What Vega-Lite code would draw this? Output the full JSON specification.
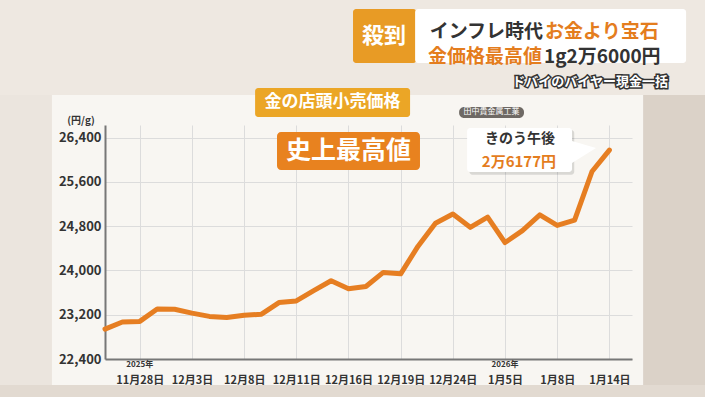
{
  "$schema": "https://vega.github.io/schema/vega-lite/v6.json",
  "width": 527,
  "height": 234,
  "autosize": "none",
  "padding": {"left": 105, "top": 125, "right": 73, "bottom": 38},
  "background": "#f8f6f2",
  "config": {
    "view": {"stroke": null},
    "font": "Noto Sans CJK JP",
    "text": {"font": "Noto Sans CJK JP", "fontWeight": "bold"}
  },
  "layer": [
    {
      "data": {"values": [
        {"x1": -7, "x2": 36, "y1": 29500, "y2": 27172, "c": "top"},
        {"x1": -7, "x2": -3.05, "y1": 27172, "y2": 21000, "c": "left"},
        {"x1": 30.94, "x2": 36, "y1": 27172, "y2": 21000, "c": "right"},
        {"x1": -7, "x2": 36, "y1": 21930, "y2": 21000, "c": "bottom"}
      ]},
      "mark": {"type": "rect", "clip": false},
      "encoding": {
        "x": {"field": "x1", "type": "quantitative"},
        "x2": {"field": "x2"},
        "y": {"field": "y1", "type": "quantitative"},
        "y2": {"field": "y2"},
        "color": {"field": "c", "type": "nominal", "legend": null,
          "scale": {"domain": ["top", "left", "right", "bottom"], "range": ["#eee8e1", "#ebe5de", "#dbd2c8", "#e2dad1"]}}
      }
    },
    {
      "data": {"values": [
        {"i": 0, "date": "2025-11-26", "price": 22940},
        {"i": 1, "date": "2025-11-27", "price": 23070},
        {"i": 2, "date": "2025-11-28", "price": 23080},
        {"i": 3, "date": "2025-12-01", "price": 23305},
        {"i": 4, "date": "2025-12-02", "price": 23300},
        {"i": 5, "date": "2025-12-03", "price": 23230},
        {"i": 6, "date": "2025-12-04", "price": 23170},
        {"i": 7, "date": "2025-12-05", "price": 23150},
        {"i": 8, "date": "2025-12-08", "price": 23190},
        {"i": 9, "date": "2025-12-09", "price": 23210},
        {"i": 10, "date": "2025-12-10", "price": 23420},
        {"i": 11, "date": "2025-12-11", "price": 23450},
        {"i": 12, "date": "2025-12-12", "price": 23635},
        {"i": 13, "date": "2025-12-15", "price": 23815},
        {"i": 14, "date": "2025-12-16", "price": 23670},
        {"i": 15, "date": "2025-12-17", "price": 23710},
        {"i": 16, "date": "2025-12-18", "price": 23965},
        {"i": 17, "date": "2025-12-19", "price": 23940},
        {"i": 18, "date": "2025-12-22", "price": 24440},
        {"i": 19, "date": "2025-12-23", "price": 24855},
        {"i": 20, "date": "2025-12-24", "price": 25020},
        {"i": 21, "date": "2025-12-25", "price": 24780},
        {"i": 22, "date": "2025-12-26", "price": 24965},
        {"i": 23, "date": "2026-01-05", "price": 24505},
        {"i": 24, "date": "2026-01-06", "price": 24720},
        {"i": 25, "date": "2026-01-07", "price": 25005},
        {"i": 26, "date": "2026-01-08", "price": 24815},
        {"i": 27, "date": "2026-01-09", "price": 24910},
        {"i": 28, "date": "2026-01-13", "price": 25790},
        {"i": 29, "date": "2026-01-14", "price": 26177}
      ]},
      "mark": {"type": "line", "color": "#e67e22", "strokeWidth": 5, "strokeJoin": "round", "strokeCap": "round"},
      "encoding": {
        "x": {"field": "i", "type": "quantitative",
          "scale": {"domain": [0, 30.3], "nice": false, "zero": false},
          "axis": {"title": null, "values": [2, 5, 8, 11, 14, 17, 20, 23, 26, 29],
            "labelExpr": "['11月28日','12月3日','12月8日','12月11日','12月16日','12月19日','12月24日','1月5日','1月8日','1月14日'][(datum.value-2)/3]",
            "ticks": false, "domainColor": "#777", "domainWidth": 2, "grid": true, "gridColor": "#dcdcdc", "gridWidth": 1,
            "labelFont": "Noto Sans CJK JP", "labelFontWeight": "bold", "labelFontSize": 11, "labelColor": "#333", "labelPadding": 15, "labelFlush": false}},
        "y": {"field": "price", "type": "quantitative",
          "scale": {"domain": [22400, 26630], "nice": false, "zero": false},
          "axis": {"title": null, "values": [22400, 23200, 24000, 24800, 25600, 26400],
            "labelExpr": "format(datum.value, ',')",
            "ticks": false, "domainColor": "#777", "domainWidth": 2, "grid": true, "gridColor": "#dcdcdc", "gridWidth": 1,
            "labelFont": "Noto Sans CJK JP", "labelFontWeight": "bold", "labelFontSize": 13, "labelColor": "#333", "labelPadding": 4}}
      }
    },
    {
      "data": {"values": [{}]},
      "mark": {"type": "rect", "clip": false, "color": "#e89b25", "cornerRadius": 3},
      "encoding": {"x": {"datum": 14.26, "type": "quantitative"}, "x2": {"datum": 17.9},
        "y": {"datum": 28727, "type": "quantitative"}, "y2": {"datum": 27751}}
    },
    {
      "data": {"values": [{}]},
      "mark": {"type": "rect", "clip": false, "color": "#ffffff", "cornerRadius": 3},
      "encoding": {"x": {"datum": 17.83, "type": "quantitative"}, "x2": {"datum": 33.41},
        "y": {"datum": 28727, "type": "quantitative"}, "y2": {"datum": 27751}}
    },
    {
      "data": {"values": [{}]},
      "mark": {"type": "text", "clip": false, "color": "#ffffff", "fontSize": 22, "align": "center", "baseline": "middle", "text": "殺到"},
      "encoding": {"x": {"datum": 16.04, "type": "quantitative"}, "y": {"datum": 28239, "type": "quantitative"}}
    },
    {
      "data": {"values": [{}]},
      "mark": {"type": "text", "clip": false, "color": "#333333", "fontSize": 19, "align": "right", "baseline": "middle", "text": "インフレ時代"},
      "encoding": {"x": {"datum": 25.19, "type": "quantitative"}, "y": {"datum": 28310, "type": "quantitative"}}
    },
    {
      "data": {"values": [{}]},
      "mark": {"type": "text", "clip": false, "color": "#e47d1e", "fontSize": 19, "align": "left", "baseline": "middle", "text": "お金より宝石"},
      "encoding": {"x": {"datum": 25.3, "type": "quantitative"}, "y": {"datum": 28310, "type": "quantitative"}}
    },
    {
      "data": {"values": [{}]},
      "mark": {"type": "text", "clip": false, "color": "#e47d1e", "fontSize": 19, "align": "right", "baseline": "middle", "text": "金価格最高値"},
      "encoding": {"x": {"datum": 25.13, "type": "quantitative"}, "y": {"datum": 27860, "type": "quantitative"}}
    },
    {
      "data": {"values": [{}]},
      "mark": {"type": "text", "clip": false, "color": "#333333", "fontSize": 19, "align": "left", "baseline": "middle", "text": "1g2万6000円"},
      "encoding": {"x": {"datum": 25.24, "type": "quantitative"}, "y": {"datum": 27860, "type": "quantitative"}}
    },
    {
      "data": {"values": [{}]},
      "mark": {"type": "text", "clip": false, "color": "#333333", "stroke": "#333333", "strokeWidth": 3, "fontSize": 13, "align": "center", "baseline": "middle", "text": "ドバイのバイヤー現金一括"},
      "encoding": {"x": {"datum": 27.89, "type": "quantitative"}, "y": {"datum": 27407, "type": "quantitative"}}
    },
    {
      "data": {"values": [{}]},
      "mark": {"type": "text", "clip": false, "color": "#ffffff", "fontSize": 13, "align": "center", "baseline": "middle", "text": "ドバイのバイヤー現金一括"},
      "encoding": {"x": {"datum": 27.89, "type": "quantitative"}, "y": {"datum": 27407, "type": "quantitative"}}
    },
    {
      "data": {"values": [{}]},
      "mark": {"type": "rect", "clip": false, "color": "#eba626", "cornerRadius": 3},
      "encoding": {"x": {"datum": 8.63, "type": "quantitative"}, "x2": {"datum": 17.54},
        "y": {"datum": 27299, "type": "quantitative"}, "y2": {"datum": 26775}}
    },
    {
      "data": {"values": [{}]},
      "mark": {"type": "text", "clip": false, "color": "#ffffff", "fontSize": 17, "align": "center", "baseline": "middle", "text": "金の店頭小売価格"},
      "encoding": {"x": {"datum": 13.08, "type": "quantitative"}, "y": {"datum": 27046, "type": "quantitative"}}
    },
    {
      "data": {"values": [{}]},
      "mark": {"type": "rect", "clip": false, "color": "#6e6964", "cornerRadius": 5},
      "encoding": {"x": {"datum": 20.36, "type": "quantitative"}, "x2": {"datum": 24.09},
        "y": {"datum": 26955, "type": "quantitative"}, "y2": {"datum": 26757}}
    },
    {
      "data": {"values": [{}]},
      "mark": {"type": "text", "clip": false, "color": "#ffffff", "fontSize": 8, "fontWeight": "normal", "align": "center", "baseline": "middle", "text": "田中貴金属工業"},
      "encoding": {"x": {"datum": 22.22, "type": "quantitative"}, "y": {"datum": 26856, "type": "quantitative"}}
    },
    {
      "data": {"values": [{}]},
      "mark": {"type": "rect", "clip": false, "color": "#e8821f", "cornerRadius": 4},
      "encoding": {"x": {"datum": 9.89, "type": "quantitative"}, "x2": {"datum": 18.11},
        "y": {"datum": 26503, "type": "quantitative"}, "y2": {"datum": 25817}}
    },
    {
      "data": {"values": [{}]},
      "mark": {"type": "text", "clip": false, "color": "#ffffff", "fontSize": 25, "align": "center", "baseline": "middle", "text": "史上最高値"},
      "encoding": {"x": {"datum": 14.0, "type": "quantitative"}, "y": {"datum": 26160, "type": "quantitative"}}
    },
    {
      "data": {"values": [{}]},
      "mark": {"type": "rect", "clip": false, "color": "#000000", "opacity": 0.12, "cornerRadius": 3},
      "encoding": {"x": {"datum": 20.95, "type": "quantitative"}, "x2": {"datum": 26.98},
        "y": {"datum": 26540, "type": "quantitative"}, "y2": {"datum": 25730}}
    },
    {
      "data": {"values": [{}]},
      "mark": {"type": "point", "clip": false, "filled": true, "color": "#ffffff", "opacity": 1, "size": 576, "shape": "M-1,-0.83L1,-0.25L-1,1Z"},
      "encoding": {"x": {"datum": 27.54, "type": "quantitative"}, "y": {"datum": 26160, "type": "quantitative"}}
    },
    {
      "data": {"values": [{}]},
      "mark": {"type": "rect", "clip": false, "color": "#ffffff", "cornerRadius": 3},
      "encoding": {"x": {"datum": 20.82, "type": "quantitative"}, "x2": {"datum": 26.85},
        "y": {"datum": 26576, "type": "quantitative"}, "y2": {"datum": 25780}}
    },
    {
      "data": {"values": [{}]},
      "mark": {"type": "text", "clip": false, "color": "#333333", "fontSize": 14, "align": "center", "baseline": "middle", "text": "きのう午後"},
      "encoding": {"x": {"datum": 23.86, "type": "quantitative"}, "y": {"datum": 26385, "type": "quantitative"}}
    },
    {
      "data": {"values": [{}]},
      "mark": {"type": "text", "clip": false, "color": "#e47d1e", "fontSize": 15, "align": "center", "baseline": "middle", "text": "2万6177円"},
      "encoding": {"x": {"datum": 23.8, "type": "quantitative"}, "y": {"datum": 25965, "type": "quantitative"}}
    },
    {
      "data": {"values": [{}]},
      "mark": {"type": "text", "clip": false, "color": "#333333", "fontSize": 10, "align": "center", "baseline": "middle", "text": "(円/g)"},
      "encoding": {"x": {"datum": -1.38, "type": "quantitative"}, "y": {"datum": 26702, "type": "quantitative"}}
    },
    {
      "data": {"values": [{"i": 2, "label": "2025年"}, {"i": 23, "label": "2026年"}]},
      "mark": {"type": "text", "clip": false, "color": "#333333", "fontSize": 8, "align": "center", "baseline": "middle"},
      "encoding": {"x": {"field": "i", "type": "quantitative"}, "y": {"datum": 22285, "type": "quantitative"}, "text": {"field": "label"}}
    }
  ]
}
